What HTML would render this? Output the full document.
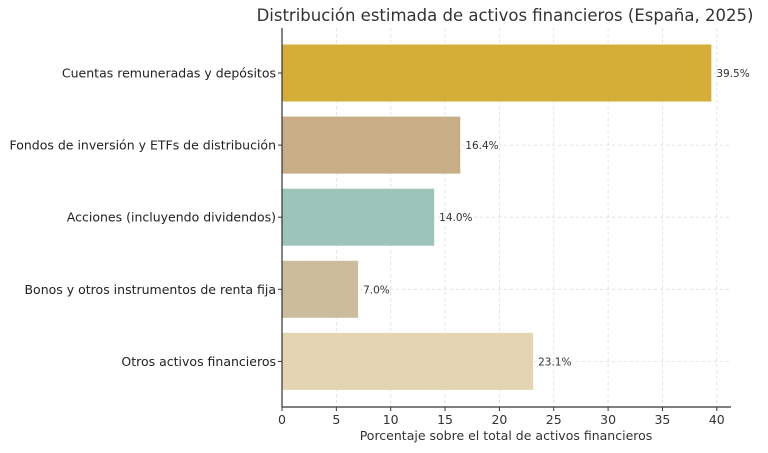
<!DOCTYPE html>
<html><head><meta charset="utf-8"><style>
body{margin:0;background:#fff;font-family:"Liberation Sans","DejaVu Sans",sans-serif}
svg text{font-family:"DejaVu Sans","Liberation Sans",sans-serif}
</style></head><body>
<svg id="c" width="768" height="448">
<text x="505" y="21" text-anchor="middle" font-size="16.5" fill="#333">Distribución estimada de activos financieros (España, 2025)</text>
<g id="grid"></g><g id="bars"></g><g id="axes"></g>
<text x="506" y="440" text-anchor="middle" font-size="12.5" fill="#333">Porcentaje sobre el total de activos financieros</text>
</svg>
<script>
const categories=["Cuentas remuneradas y depósitos","Fondos de inversión y ETFs de distribución","Acciones (incluyendo dividendos)","Bonos y otros instrumentos de renta fija","Otros activos financieros"];
const values=[39.5,16.4,14.0,7.0,23.1];
const colors=["#d4ae37","#c8ae87","#9cc4b8","#cbbc9c","#e5d4b2"];
const ticks=[0,5,10,15,20,25,30,35,40];
const ns="http://www.w3.org/2000/svg";
const x=v=>282+v*10.87;
const yc=i=>73+i*72.1;
function mk(t,a,p){const e=document.createElementNS(ns,t);for(const k in a)e.setAttribute(k,a[k]);p.appendChild(e);return e;}
const g=document.getElementById('grid'),b=document.getElementById('bars'),ax=document.getElementById('axes');
ticks.forEach(t=>{
 const l=mk('line',{x1:x(t),x2:x(t),y1:28,y2:407,stroke:'#ddd','stroke-dasharray':'3,3','stroke-width':0.8},g);
 
 
 const tk=mk('line',{x1:x(t),x2:x(t),y1:407,y2:411,stroke:'#333'},ax);
 
 
 const tx=mk('text',{x:x(t),y:424,'text-anchor':'middle','font-size':12.5,fill:'#333'},ax);
 tx.textContent=t;
 
 
});
categories.forEach((c,i)=>{
 const gl=mk('line',{x1:282,x2:731,y1:yc(i),y2:yc(i),stroke:'#ddd','stroke-dasharray':'3,3','stroke-width':0.8},g);
 
 
 const r=mk('rect',{x:282,y:yc(i)-28.5,width:x(values[i])-282,height:57,fill:colors[i]},b);
 
 
 const v=mk('text',{x:x(values[i])+5,y:yc(i)+4,'font-size':10.5,fill:'#333'},b);
 v.textContent=values[i].toFixed(1)+'%';
 
 
 const tk=mk('line',{x1:278,x2:282,y1:yc(i),y2:yc(i),stroke:'#333'},ax);
 
 
 const l=mk('text',{x:276,y:yc(i)+4.5,'text-anchor':'end','font-size':12.5,fill:'#222'},ax);
 l.textContent=c;
 
 
});
const sl=mk('line',{x1:282,x2:282,y1:28,y2:407,stroke:'#333','stroke-width':1.2},ax);


const sb=mk('line',{x1:282,x2:731,y1:407,y2:407,stroke:'#333','stroke-width':1.2},ax);


</script>
</body></html>
